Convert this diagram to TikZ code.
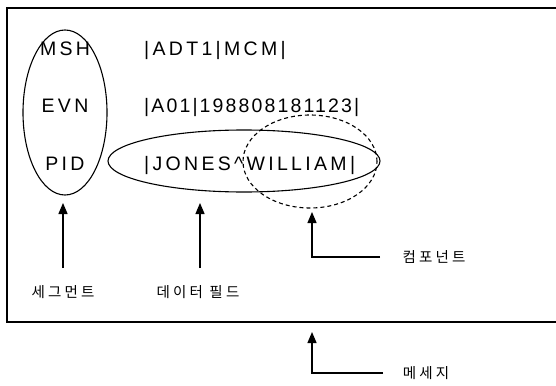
\documentclass[tikz,border=0pt]{standalone}
\usepackage{fontspec}
\newfontfamily\latinf{Liberation Sans}[LetterSpace=17]
\newfontfamily\latinn{Liberation Sans}[LetterSpace=11]
\newfontfamily\kor{Noto Sans CJK KR}[LetterSpace=22]
\usetikzlibrary{shapes.geometric,arrows.meta}
\begin{document}
\begin{tikzpicture}[x=1pt,y=-1pt,
  seg/.style={font=\latinf\fontsize{19.5}{21}\selectfont, inner sep=0pt, anchor=base},
  dat/.style={font=\latinf\fontsize{19.5}{21}\selectfont, inner sep=0pt, anchor=base west},
  datn/.style={font=\latinn\fontsize{19.5}{21}\selectfont, inner sep=0pt, anchor=base west},
  lbl/.style={font=\kor\fontsize{14.5}{16}\selectfont, inner sep=0pt},
  arr/.style={line width=1.3pt, -{Triangle[length=11pt,width=9pt]}},
  ell/.style={draw, ellipse, line width=1.1pt, inner sep=0pt}]
\useasboundingbox (0,0) rectangle (556,385);
% message box (open to the right)
\draw[line width=1.4pt] (556,8) -- (7,8) -- (7,322) -- (556,322);
% segment names
\node[seg] (msh) at (65,56) {MSH};
\node[seg] (evn) at (65,113) {EVN};
\node[seg] (pid) at (65,170) {PID};
% data
\node[dat] (d1) at (144,56) {|ADT1|MCM|};
\node[datn] (d2) at (144,113) {|A01|198808181123|};
\node[dat] (d3) at (144,170) {|JONES\^{}WILLIAM|};
% ellipses
\node[ell, minimum width=84pt, minimum height=165pt] (segell) at (65,112.5) {};
\node[ell, minimum width=272pt, minimum height=62pt] (fldell) at (244,161) {};
\node[ell, dash pattern=on 4pt off 3pt, minimum width=134pt, minimum height=93pt] (compell) at (310,161.5) {};
% labels
\node[lbl] (seglbl) at (63,292) {세그먼트};
\node[lbl] (fldlbl) at (198,292) {데이터 필드};
\node[lbl] (complbl) at (434,257) {컴포넌트};
\node[lbl] (msglbl) at (426,373) {메세지};
% arrows
\coordinate (segtip) at (63,203);
\coordinate (segtail) at (63,268);
\coordinate (fldtip) at (200,203);
\coordinate (fldtail) at (200,268);
\coordinate (comptip) at (312,212);
\coordinate (comptail) at (380,257);
\coordinate (msgtip) at (312,332);
\coordinate (msgtail) at (383,373);
\draw[arr] (segtail) -- (segtip);
\draw[arr] (fldtail) -- (fldtip);
\draw[arr] (comptail) -| (comptip);
\draw[arr] (msgtail) -| (msgtip);
\end{tikzpicture}
\end{document}
